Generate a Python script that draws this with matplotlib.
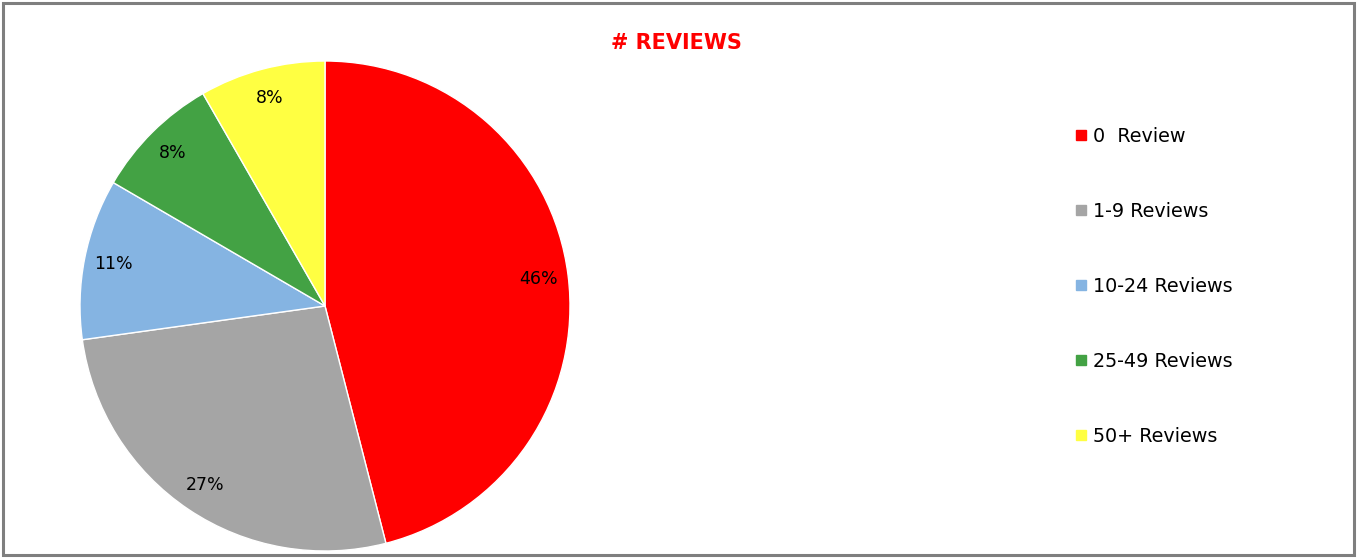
import matplotlib
matplotlib.use('Agg')
import matplotlib.pyplot as plt
from matplotlib.lines import Line2D
from matplotlib.patches import Rectangle

categories = ['0  Review', '1-9 Reviews', '10-24 Reviews', '25-49 Reviews', '50+ Reviews']
shares = [46.0, 26.8, 10.6, 8.3, 8.3]
colors = ['#ff0000', '#a5a5a5', '#85b4e2', '#43a244', '#ffff42']

plt.rcParams['font.family'] = ['DejaVu Sans']

W, H = 1357, 558
fig = plt.figure(figsize=(W / 100, H / 100), dpi=100)

# pie axes placed in pixels: centre (325, 306), radius 245
cx, cy, r = 325, 306, 245
ax = fig.add_axes([(cx - r) / W, (H - cy - r) / H, 2 * r / W, 2 * r / H])
wedges, texts, autotexts = ax.pie(
    shares, colors=colors, startangle=90, counterclock=False,
    autopct='%1.0f%%', pctdistance=0.88, radius=1,
    wedgeprops=dict(edgecolor='white', linewidth=1),
    textprops=dict(fontsize=12.5, color='black'))
ax.set_xlim(-1, 1)
ax.set_ylim(-1, 1)
ax.set_aspect('equal')

fig.text(676 / W, 1 - 43 / H, '# REVIEWS', color='#ff0000', fontsize=15,
         fontweight='bold', ha='center', va='center')

handles = [Line2D([], [], marker='s', linestyle='none', markersize=7,
                  markerfacecolor=c, markeredgecolor=c) for c in colors]
fig.legend(handles, categories, loc='upper left',
           bbox_to_anchor=(1074 / W, 1 - 127 / H), frameon=False,
           fontsize=13.8, labelspacing=2.92, handlelength=0.7,
           handletextpad=0.3, borderpad=0, borderaxespad=0)

# grey frame around the whole chart
fig.add_artist(Rectangle((3 / W, 3 / H), (W - 6) / W, (H - 6) / H,
                         transform=fig.transFigure, fill=False,
                         edgecolor='#7f7f7f', linewidth=2.2))

fig.savefig('out.png', dpi=100)
